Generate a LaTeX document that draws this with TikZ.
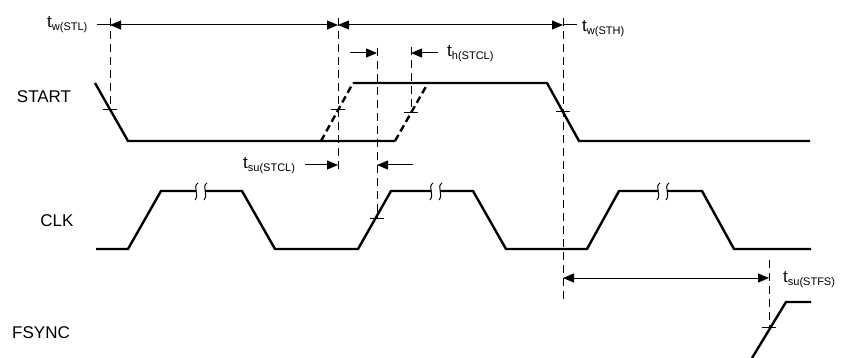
\documentclass[tikz,border=0pt]{standalone}
\usepackage{fontspec}
\setmainfont{Liberation Sans}
\usetikzlibrary{arrows.meta}
\newcommand{\tsb}[1]{t\raisebox{-3pt}{\fontsize{11}{12}\selectfont #1}}
\begin{document}
\begin{tikzpicture}[x=1pt,y=-1pt,
  sig/.style={line width=2.4pt, line join=miter},
  sigdash/.style={line width=2.4pt, dash pattern=on 7pt off 4pt},
  guide/.style={line width=1pt, dash pattern=on 8pt off 5pt},
  tickmark/.style={line width=1pt},
  stub/.style={line width=1pt},
  dimboth/.style={line width=1pt, {Triangle[length=11pt,width=9pt]}-{Triangle[length=11pt,width=9pt]}},
  dimto/.style={line width=1pt, -{Triangle[length=11pt,width=9pt]}},
  lbl/.style={font=\fontsize{17}{20}\selectfont, inner sep=0pt},
  brk/.pic={\draw[line width=1pt] (2,-8) .. controls (-4,-4) and (4,3) .. (-1,9);}
]
\useasboundingbox (0,0) rectangle (842,358);

% signal names
\node[lbl] (start) at (44,97) {START};
\node[lbl] (clk) at (57,221) {CLK};
\node[lbl] (fsync) at (41,333) {FSYNC};

% START waveform
\draw[sig] (95,83) -- (128,141) -- (395,141);
\draw[sigdash] (321,141) -- (353,83);
\draw[sigdash] (395,141) -- (428,83);
\draw[sig] (353,83) -- (547,83) -- (579,141) -- (810,141);

% CLK waveform
\draw[sig] (96,249) -- (128,249) -- (161,191) -- (196,191);
\draw[sig] (205,191) -- (242,191) -- (275,249) -- (358,249) -- (391,191) -- (431,191);
\draw[sig] (440,191) -- (473,191) -- (506,249) -- (587,249) -- (619,191) -- (658,191);
\draw[sig] (667,191) -- (702,191) -- (734,249) -- (811,249);
\pic at (196,191) {brk};
\pic at (205,191) {brk};
\pic at (431,191) {brk};
\pic at (440,191) {brk};
\pic at (658,191) {brk};
\pic at (667,191) {brk};

% FSYNC waveform
\draw[sig] (752,358) -- (786,302) -- (811,302);

% key coordinates
\coordinate (a1) at (110,25);
\coordinate (a2) at (338,25);
\coordinate (a3) at (563,25);
\coordinate (h1) at (377,53);
\coordinate (h2) at (411,53);
\coordinate (s1) at (338,165);
\coordinate (s2) at (377,165);
\coordinate (f1) at (563,278);
\coordinate (f2) at (769,278);

% guide lines
\draw[guide] (110,18) -- (110,110);
\draw[guide] (338,18) -- (338,172);
\draw[guide] (377,48) -- (377,218);
\draw[guide] (411,47) -- (411,113);
\draw[guide] (563,18) -- (563,300);
\draw[guide] (769,260) -- (769,330);

% tick marks
\draw[tickmark] (103,110) -- (117,110);
\draw[tickmark] (331,110) -- (345,110);
\draw[tickmark] (404,113) -- (418,113);
\draw[tickmark] (556,112) -- (570,112);
\draw[tickmark] (370,218) -- (384,218);
\draw[tickmark] (762,327) -- (776,327);

% timing arrows
\draw[dimboth] (a1) -- (a2);
\draw[dimboth] (a2) -- (a3);
\draw[stub] (97,25) -- (a1);
\draw[stub] (a3) -- (577,25);

\coordinate (h0) at (350,53);
\coordinate (h3) at (438,53);
\draw[dimto] (h0) -- (h1);
\draw[dimto] (h3) -- (h2);

\coordinate (s0) at (305,165);
\coordinate (s3) at (413,165);
\draw[dimto] (s0) -- (s1);
\draw[dimto] (s3) -- (s2);

\draw[dimboth] (f1) -- (f2);

% timing labels
\node[lbl, anchor=base west] (twstl) at (47,28) {\tsb{w(STL)}};
\node[lbl, anchor=base west] (twsth) at (582,32) {\tsb{w(STH)}};
\node[lbl, anchor=base west] (thstcl) at (447,57) {\tsb{h(STCL)}};
\node[lbl, anchor=base west] (tsustcl) at (243,168) {\tsb{su(STCL)}};
\node[lbl, anchor=base west] (tsustfs) at (783,282) {\tsb{su(STFS)}};
\end{tikzpicture}
\end{document}
